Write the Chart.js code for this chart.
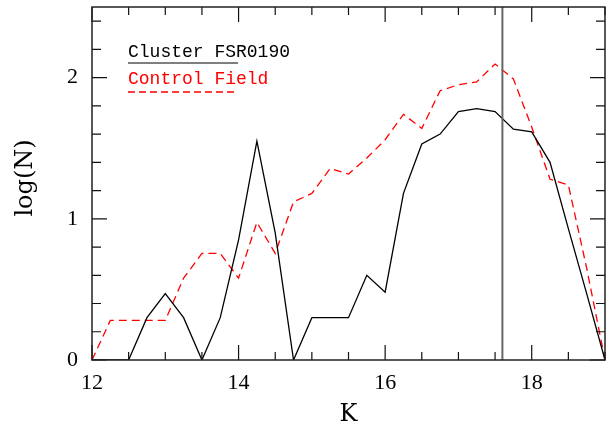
<!DOCTYPE html>
<html>
<head>
<meta charset="utf-8">
<script src="https://cdn.jsdelivr.net/npm/chart.js@4.4.0/dist/chart.umd.min.js"></script>
<style>
  html, body { margin: 0; padding: 0; background: #fff; }
  #wrap { width: 611px; height: 430px; }
</style>
</head>
<body>
<div id="wrap"><canvas id="chart" width="611" height="430"></canvas></div>
<script>
// K magnitude bins
const kBins = [12, 12.25, 12.5, 12.75, 13, 13.25, 13.5, 13.75, 14, 14.25, 14.5, 14.75,
  15, 15.25, 15.5, 15.75, 16, 16.25, 16.5, 16.75, 17, 17.25, 17.5, 17.75,
  18, 18.25, 18.5, 18.75, 19];
const clusterLogN = [0, 0, 0, 0.3, 0.47, 0.3, 0, 0.3, 0.85, 1.55, 0.9, 0,
  0.3, 0.3, 0.3, 0.6, 0.48, 1.18, 1.53, 1.6, 1.76, 1.78, 1.76, 1.635,
  1.615, 1.4, 0.93, 0.47, 0];
const controlLogN = [0, 0.28, 0.28, 0.28, 0.28, 0.58, 0.755, 0.755, 0.58, 0.975, 0.755, 1.12,
  1.18, 1.357, 1.317, 1.43, 1.56, 1.74, 1.64, 1.907, 1.95, 1.97, 2.096, 1.99,
  1.65, 1.28, 1.24, 0.65, 0];
const xTickLabels = [12, 14, 16, 18];
const yTickLabels = [0, 1, 2];
const completenessK = 17.6;
const legendNames = ["Cluster FSR0190", "Control Field"];

const toPoints = (ys) => ys.map((y, i) => ({ x: kBins[i], y: y }));

// inward ticks on all four sides, frame, limit line, legend, axis titles
const decorPlugin = {
  id: "decor",
  afterDatasetsDraw(chart) {
    const { ctx, chartArea: a, scales } = chart;
    const xs = scales.x, ys = scales.y;
    ctx.save();

    // limit line
    const lx = xs.getPixelForValue(completenessK);
    ctx.strokeStyle = "#666";
    ctx.lineWidth = 2;
    ctx.beginPath();
    ctx.moveTo(lx, a.top);
    ctx.lineTo(lx, a.bottom);
    ctx.stroke();

    // ticks
    ctx.strokeStyle = "#111";
    ctx.lineWidth = 1.2;
    ctx.beginPath();
    for (let i = 0; i <= 14; i++) {
      const v = 12 + i * 0.5;
      const len = (v % 2 === 0) ? 15 : 8;
      const px = xs.getPixelForValue(v);
      ctx.moveTo(px, a.bottom); ctx.lineTo(px, a.bottom - len);
      ctx.moveTo(px, a.top); ctx.lineTo(px, a.top + len);
    }
    for (let i = 0; i <= 12; i++) {
      const v = i * 0.2;
      const len = (i % 5 === 0) ? 15 : 9;
      const py = ys.getPixelForValue(v);
      ctx.moveTo(a.left, py); ctx.lineTo(a.left + len, py);
      ctx.moveTo(a.right, py); ctx.lineTo(a.right - len, py);
    }
    ctx.stroke();

    // frame
    ctx.lineWidth = 1.5;
    ctx.strokeStyle = "#222";
    ctx.strokeRect(a.left, a.top, a.right - a.left, a.bottom - a.top);

    // legend
    ctx.font = "18px 'Liberation Mono', monospace";
    ctx.textBaseline = "alphabetic";
    ctx.textAlign = "left";
    ctx.fillStyle = "#000";
    ctx.fillText(legendNames[0], 128, 57);
    ctx.strokeStyle = "#555";
    ctx.lineWidth = 1.6;
    ctx.beginPath();
    ctx.moveTo(128, 63); ctx.lineTo(238, 63);
    ctx.stroke();
    ctx.fillStyle = "#ff0000";
    ctx.fillText(legendNames[1], 128, 84);
    ctx.strokeStyle = "#ff0000";
    ctx.lineWidth = 1.3;
    ctx.setLineDash([7, 4]);
    ctx.beginPath();
    ctx.moveTo(128, 92); ctx.lineTo(238, 92);
    ctx.stroke();
    ctx.setLineDash([]);

    // axis titles
    ctx.fillStyle = "#000";
    ctx.font = "24px 'DejaVu Serif', serif";
    ctx.textAlign = "center";
    ctx.textBaseline = "middle";
    ctx.fillText("K", (a.left + a.right) / 2, 415);
    ctx.translate(26, 178);
    ctx.rotate(-Math.PI / 2);
    ctx.fillText("log(N)", 0, 0);
    ctx.restore();
  }
};

new Chart(document.getElementById("chart"), {
  type: "line",
  data: {
    datasets: [
      {
        label: legendNames[0],
        data: toPoints(clusterLogN),
        borderColor: "#000",
        borderWidth: 1.3,
        pointRadius: 0,
        tension: 0,
        fill: false
      },
      {
        label: legendNames[1],
        data: toPoints(controlLogN),
        borderColor: "#ff0000",
        borderWidth: 1.3,
        borderDash: [8, 5],
        pointRadius: 0,
        tension: 0,
        fill: false
      }
    ]
  },
  options: {
    responsive: false,
    animation: false,
    devicePixelRatio: 1,
    layout: { padding: { top: 7, right: 6, left: 0, bottom: 0 } },
    plugins: { legend: { display: false }, tooltip: { enabled: false } },
    scales: {
      x: {
        type: "linear",
        min: 12,
        max: 19,
        grid: { display: false, drawTicks: false },
        border: { display: false },
        afterBuildTicks: (s) => { s.ticks = xTickLabels.map(v => ({ value: v })); },
        afterFit: (s) => { s.height = 70; s.paddingLeft = 0; s.paddingRight = 0; },
        ticks: {
          padding: 10,
          color: "#000",
          maxRotation: 0,
          font: { family: "'Liberation Serif', serif", size: 22 }
        }
      },
      y: {
        min: 0,
        max: 2.5,
        grid: { display: false, drawTicks: false },
        border: { display: false },
        afterBuildTicks: (s) => { s.ticks = yTickLabels.map(v => ({ value: v })); },
        afterFit: (s) => { s.width = 92; s.paddingTop = 0; s.paddingBottom = 0; },
        ticks: {
          padding: 14,
          color: "#000",
          font: { family: "'Liberation Serif', serif", size: 22 }
        }
      }
    }
  },
  plugins: [decorPlugin]
});
</script>
</body>
</html>
